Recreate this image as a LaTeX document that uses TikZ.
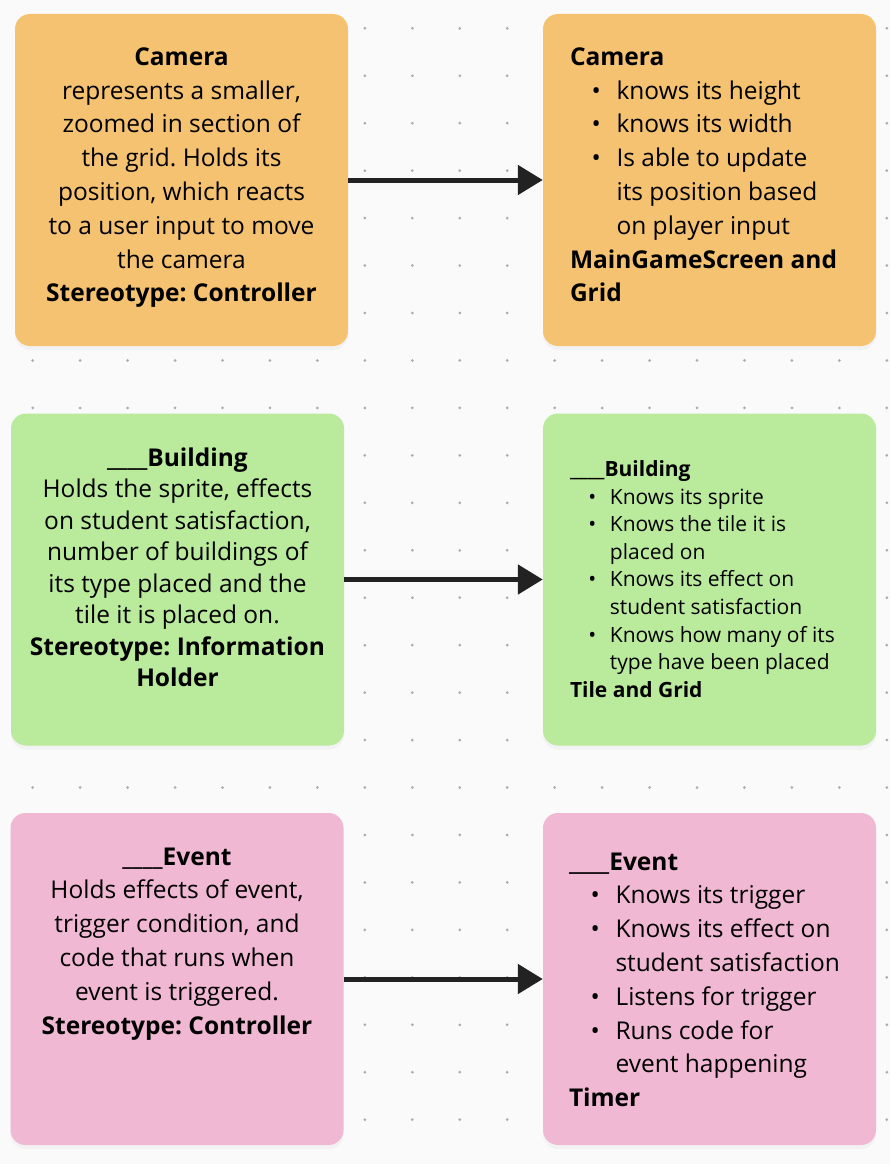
\documentclass[tikz,border=0pt]{standalone}
\usepackage{fontspec}
\setmainfont{Open Sans}
\frenchspacing
\usetikzlibrary{arrows.meta,positioning,shadows}
\definecolor{noteorange}{HTML}{F5C272}
\definecolor{notegreen}{HTML}{BAEA9C}
\definecolor{notepink}{HTML}{F1B8D3}
\definecolor{canvasbg}{HTML}{FAFAFA}
\definecolor{griddot}{HTML}{ABABAB}
\definecolor{inkdark}{HTML}{222222}
\newcommand{\crcitem}{\makebox[1.9em][l]{\hspace{0.88em}\textbullet}}
\newcommand{\crcwrap}{\hspace*{1.9em}}
\begin{document}
\begin{tikzpicture}[x=1pt,y=-1pt,
  note/.style={rounded corners=15pt, minimum width=333pt, minimum height=332pt, inner sep=0pt,
    drop shadow={shadow xshift=0pt, shadow yshift=-4pt, opacity=0.06}},
  notetext/.style={inner sep=0pt, text=black, font=\fontsize{24.5}{33.8}\selectfont},
  smalltext/.style={inner sep=0pt, text=black, font=\fontsize{21}{27.6}\selectfont},
  flow/.style={draw=inkdark, line width=5pt, -{Triangle[length=25pt,width=29pt]}}]
  \fill[canvasbg] (0,0) rectangle (890,1164);
  \foreach \i in {0,...,18}
    \foreach \j in {0,...,23}
      \fill[griddot] (32.7+47.45*\i, 28.3+47.45*\j) circle (1.5pt);

  \node[note, fill=noteorange] (cam) at (181.5,180) {};
  \node[note, fill=noteorange] (camResp) at (709.5,180) {};
  \node[note, fill=notegreen] (bld) at (177.5,579.5) {};
  \node[note, fill=notegreen] (bldResp) at (709.5,579.5) {};
  \node[note, fill=notepink] (evt) at (177,979) {};
  \node[note, fill=notepink] (evtResp) at (709.5,979) {};

  \node[notetext, align=center, anchor=north] (camText) at ([yshift=-33.5pt]cam.north)
    {\textbf{Camera}\\represents a smaller,\\zoomed in section of\\the grid. Holds its\\position, which reacts\\to a user input to move\\the camera\\\textbf{Stereotype: Controller}};
  \node[notetext, align=left, anchor=north west] (camRespText) at ([xshift=27pt,yshift=-33.5pt]camResp.north west)
    {\textbf{Camera}\\\crcitem knows its height\\\crcitem knows its width\\\crcitem Is able to update\\\crcwrap its position based\\\crcwrap on player input\\\textbf{MainGameScreen and}\\\textbf{Grid}};

  \node[notetext, align=center, anchor=north, font=\fontsize{24.5}{31.5}\selectfont] (bldText) at ([yshift=-34pt]bld.north)
    {\textbf{\_\_\_\_Building}\\Holds the sprite, effects\\on student satisfaction,\\number of buildings of\\its type placed and the\\tile it is placed on.\\\textbf{Stereotype: Information}\\\textbf{Holder}};
  \node[smalltext, align=left, anchor=north west] (bldRespText) at ([xshift=27pt,yshift=-47pt]bldResp.north west)
    {\textbf{\_\_\_\_Building}\\\crcitem Knows its sprite\\\crcitem Knows the tile it is\\\crcwrap placed on\\\crcitem Knows its effect on\\\crcwrap student satisfaction\\\crcitem Knows how many of its\\\crcwrap type have been placed\\\textbf{Tile and Grid}};

  \node[notetext, align=center, anchor=north] (evtText) at ([yshift=-34.5pt]evt.north)
    {\textbf{\_\_\_\_Event}\\Holds effects of event,\\trigger condition, and\\code that runs when\\event is triggered.\\\textbf{Stereotype: Controller}};
  \node[notetext, align=left, anchor=north west] (evtRespText) at ([xshift=26pt,yshift=-39.5pt]evtResp.north west)
    {\textbf{\_\_\_\_Event}\\\crcitem Knows its trigger\\\crcitem Knows its effect on\\\crcwrap student satisfaction\\\crcitem Listens for trigger\\\crcitem Runs code for\\\crcwrap event happening\\\textbf{Timer}};

  \draw[flow] (cam) -- (camResp);
  \draw[flow] (bld) -- (bldResp);
  \draw[flow] (evt) -- (evtResp);
\end{tikzpicture}
\end{document}
